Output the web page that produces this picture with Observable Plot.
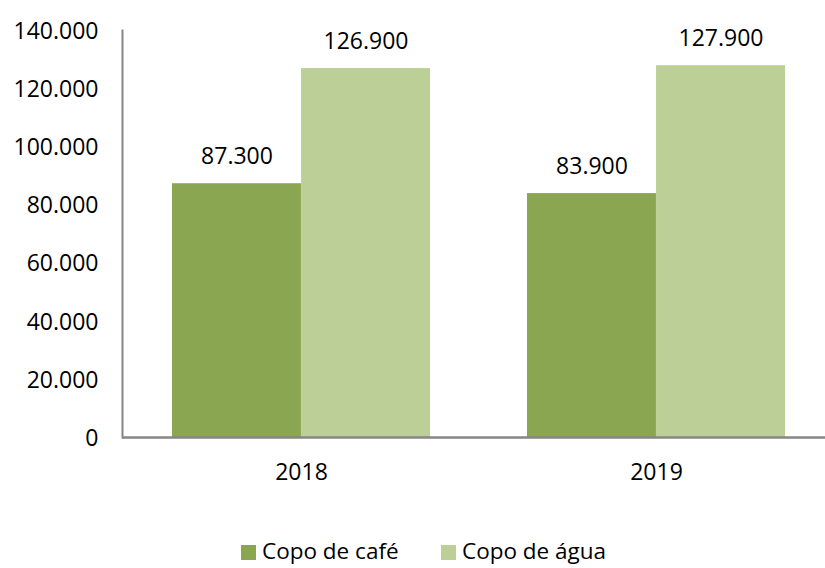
<!DOCTYPE html>
<html><head><meta charset="utf-8">
<script src="https://cdn.jsdelivr.net/npm/d3@7"></script>
<script src="https://cdn.jsdelivr.net/npm/@observablehq/plot@0.6"></script>
<style>
body{margin:0;background:#fff;font-family:"Open Sans",sans-serif;color:#000}
#wrap{position:relative;width:825px;height:568px;overflow:hidden}
.leg{position:absolute;top:535px;font-size:22.5px;line-height:31px;white-space:nowrap;display:flex;align-items:center}
.sw{display:inline-block;width:15px;height:15px;margin-right:6px;position:relative;top:2px}
</style>
</head><body><div id="wrap"><div id="chart"></div></div>
<script>
const years = ["2018", "2019"];
const series = ["Copo de café", "Copo de água"];
const cafe = [87300, 83900];
const agua = [126900, 127900];
const yTicks = [0, 20000, 40000, 60000, 80000, 100000, 120000, 140000];
const colors = ["#8BA650", "#BBCF96"];

const fmt = d3.formatLocale({decimal: ",", thousands: ".", grouping: [3], currency: ["R$", ""]}).format(",");
const dataCafe = years.map((y, i) => ({year: y, value: cafe[i]}));
const dataAgua = years.map((y, i) => ({year: y, value: agua[i]}));

const xr = [122, 836], pi = 0.273, po = 0.142;
const step = (xr[1] - xr[0]) / (years.length - pi + 2 * po);
const half = step * (1 - pi) / 2;
const fs = 23;

const chart = Plot.plot({
  width: 825, height: 500,
  marginLeft: 122, marginRight: 0, marginTop: 30, marginBottom: 63,
  style: {fontFamily: "'Open Sans', sans-serif", fontSize: fs + "px", color: "#000", background: "#fff"},
  x: {domain: years, range: xr, paddingInner: pi, paddingOuter: po, label: null},
  y: {domain: [0, 140000], label: null},
  marks: [
    Plot.barY(dataCafe, {x: "year", y: "value", fill: colors[0], insetRight: half}),
    Plot.barY(dataAgua, {x: "year", y: "value", fill: colors[1], insetLeft: half}),
    Plot.text(dataCafe, {x: "year", y: "value", text: d => fmt(d.value), dx: -half / 2, dy: -27, fontSize: fs, fill: "#000"}),
    Plot.text(dataAgua, {x: "year", y: "value", text: d => fmt(d.value), dx: half / 2, dy: -27, fontSize: fs, fill: "#000"}),
    Plot.frame({anchor: "left", stroke: "#868686", strokeWidth: 2}),
    Plot.ruleY([0], {stroke: "#868686", strokeWidth: 2.5}),
    Plot.axisY({ticks: yTicks, tickSize: 0, tickPadding: 24, tickFormat: fmt, fontSize: fs, dy: 1, label: null}),
    Plot.axisX({tickSize: 0, tickPadding: 26, fontSize: fs, label: null})
  ]
});
document.getElementById("chart").appendChild(chart);

const wrap = document.getElementById("wrap");
const legX = [241, 441];
series.forEach((s, i) => {
  const d = document.createElement("div");
  d.className = "leg";
  d.style.left = legX[i] + "px";
  d.innerHTML = `<span class="sw" style="background:${colors[i]}"></span>${s}`;
  wrap.appendChild(d);
});
</script>
</body></html>
